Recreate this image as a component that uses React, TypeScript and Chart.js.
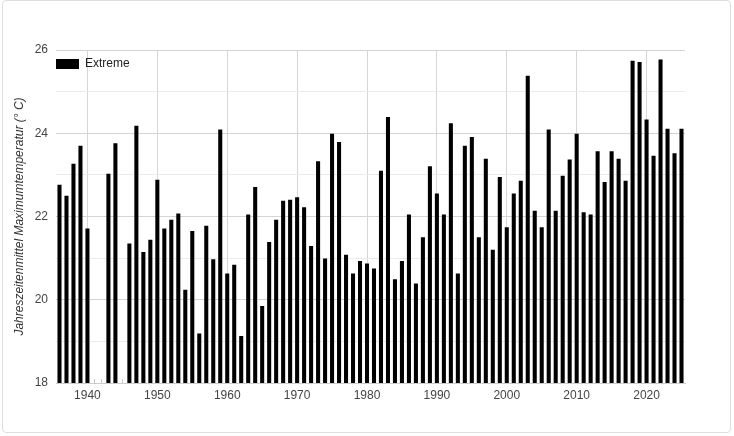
import React, { useEffect, useRef } from "react";
import { Chart, registerables } from "chart.js";

Chart.register(...registerables);

const years: string[] = [
  "1936", "1937", "1938", "1939", "1940", "1941", "1942", "1943", "1944", "1945",
  "1946", "1947", "1948", "1949", "1950", "1951", "1952", "1953", "1954", "1955",
  "1956", "1957", "1958", "1959", "1960", "1961", "1962", "1963", "1964", "1965",
  "1966", "1967", "1968", "1969", "1970", "1971", "1972", "1973", "1974", "1975",
  "1976", "1977", "1978", "1979", "1980", "1981", "1982", "1983", "1984", "1985",
  "1986", "1987", "1988", "1989", "1990", "1991", "1992", "1993", "1994", "1995",
  "1996", "1997", "1998", "1999", "2000", "2001", "2002", "2003", "2004", "2005",
  "2006", "2007", "2008", "2009", "2010", "2011", "2012", "2013", "2014", "2015",
  "2016", "2017", "2018", "2019", "2020", "2021", "2022", "2023", "2024", "2025",
];

const extremeValues: (number | null)[] = [
  22.76, 22.5, 23.27, 23.7, 21.71, null, null, 23.03, 23.76, null,
  21.35, 24.18, 21.15, 21.44, 22.88, 21.71, 21.92, 22.07, 20.24, 21.65,
  19.19, 21.78, 20.97, 24.09, 20.63, 20.84, 19.13, 22.05, 22.71, 19.85,
  21.39, 21.92, 22.38, 22.4, 22.46, 22.22, 21.29, 23.33, 20.99, 23.99,
  23.79, 21.08, 20.63, 20.93, 20.87, 20.75, 23.1, 24.39, 20.49, 20.93,
  22.05, 20.39, 21.5, 23.21, 22.55, 22.05, 24.24, 20.63, 23.7, 23.91,
  21.5, 23.39, 21.2, 22.95, 21.74, 22.55, 22.86, 25.38, 22.14, 21.74,
  24.09, 22.14, 22.98, 23.37, 23.99, 22.1, 22.05, 23.57, 22.83, 23.57,
  23.39, 22.86, 25.74, 25.71, 24.33, 23.46, 25.77, 24.11, 23.52, 24.11,
];

const labeledYears: string[] = ["1940", "1950", "1960", "1970", "1980", "1990", "2000", "2010", "2020"];
const yLabelValues: number[] = [18, 20, 22, 24, 26];

const seriesLabel = "Extreme";
const yTitle = "Jahreszeitenmittel Maximumtemperatur (° C)";

const FONT = "'Liberation Sans', Arial, sans-serif";

const insideLegend = {
  id: "insideLegend",
  afterDatasetsDraw(chart: any) {
    const { ctx, chartArea } = chart;
    const ds = chart.data.datasets[0];
    const x = chartArea.left;
    const y = chartArea.top + 9;
    ctx.save();
    ctx.fillStyle = ds.backgroundColor;
    ctx.fillRect(x, y, 23, 10);
    ctx.font = `12px ${FONT}`;
    ctx.fillStyle = "#222";
    ctx.textBaseline = "middle";
    ctx.textAlign = "left";
    ctx.fillText(ds.label, x + 29, y + 5);
    ctx.restore();
  },
};

const baseTicks = {
  id: "baseTicks",
  beforeDatasetsDraw(chart: any) {
    const { ctx, chartArea } = chart;
    const xs = chart.scales.x;
    ctx.save();
    ctx.strokeStyle = "#cccccc";
    ctx.lineWidth = 1;
    ctx.beginPath();
    for (let i = 0; i < chart.data.labels.length; i++) {
      const px = Math.round(xs.getPixelForValue(i)) + 0.5;
      ctx.moveTo(px, chartArea.bottom);
      ctx.lineTo(px, chartArea.bottom - 4);
    }
    ctx.stroke();
    ctx.restore();
  },
};

export default function App() {
  const canvasRef = useRef<HTMLCanvasElement | null>(null);

  useEffect(() => {
    if (!canvasRef.current) return;
    const chart = new Chart(canvasRef.current, {
      type: "bar",
      data: {
        labels: years,
        datasets: [
          {
            label: seriesLabel,
            data: extremeValues,
            backgroundColor: "#000000",
            borderWidth: 0,
            barPercentage: 0.58,
            categoryPercentage: 1,
          },
        ],
      },
      options: {
        responsive: false,
        animation: false,
        layout: { padding: { top: 50, right: 49, left: 0, bottom: 0 } },
        plugins: {
          legend: { display: false },
          tooltip: { enabled: false },
        },
        scales: {
          x: {
            offset: true,
            grid: {
              offset: false,
              drawTicks: false,
              color: (c: any) =>
                labeledYears.includes(years[c.index]) ? "#d6d6d6" : "rgba(0,0,0,0)",
            },
            border: { display: true, color: "#cccccc" },
            ticks: {
              autoSkip: false,
              maxRotation: 0,
              minRotation: 0,
              padding: 5,
              color: "#444444",
              font: { family: FONT, size: 12 },
              callback: (_v: any, i: number) =>
                labeledYears.includes(years[i]) ? years[i] : "",
            },
            afterFit: (s: any) => {
              s.height = 53;
            },
          },
          y: {
            min: 18,
            max: 26,
            grid: {
              drawTicks: false,
              color: (c: any) =>
                yLabelValues.includes(c.tick.value) ? "#d4d4d4" : "#ebebeb",
            },
            border: { display: false },
            ticks: {
              stepSize: 1,
              padding: 8,
              color: "#444444",
              font: { family: FONT, size: 12 },
              callback: (v: any) => (yLabelValues.includes(Number(v)) ? String(v) : ""),
            },
            title: {
              display: true,
              text: yTitle,
              color: "#333333",
              font: { family: FONT, size: 12, style: "italic" },
              padding: { top: 12, bottom: 4 },
            },
            afterFit: (s: any) => {
              s.width = 56;
            },
          },
        },
      },
      plugins: [insideLegend, baseTicks],
    });
    return () => chart.destroy();
  }, []);

  return (
    <div style={{ position: "absolute", left: 0, top: 0, width: 734, height: 436, background: "#fff" }}>
      <div
        style={{
          position: "absolute",
          left: 2,
          top: 0,
          width: 729,
          height: 433,
          boxSizing: "border-box",
          border: "1px solid #dedede",
          borderRadius: 4,
        }}
      />
      <canvas
        ref={canvasRef}
        width={734}
        height={436}
        style={{ position: "absolute", left: 0, top: 0 }}
      />
    </div>
  );
}
